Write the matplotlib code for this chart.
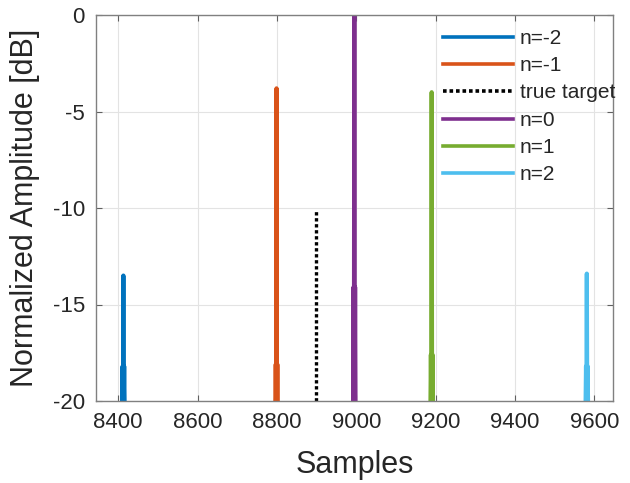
import matplotlib
matplotlib.use("Agg")
import matplotlib.pyplot as plt

plt.rcParams['font.family'] = ['Liberation Sans', 'DejaVu Sans']
plt.rcParams['axes.unicode_minus'] = False

# Compressed responses of each ambiguity order (samples vs normalized dB)
samples_m2 = [8410, 8411, 8412, 8413, 8414, 8415, 8416]
amp_m2 = [-20, -18.2, -20, -13.5, -20, -18.2, -20]

samples_m1 = [8796, 8797, 8798, 8799, 8800, 8801, 8802]
amp_m1 = [-20, -18.1, -20, -3.8, -20, -18.1, -20]

samples_true = [8898, 8898]
amp_true = [-20, -10.15]

samples_0 = [8992, 8993, 8994, 8995, 8996, 8997, 8998]
amp_0 = [-20, -14.1, -20, 0.0, -20, -14.1, -20]

samples_p1 = [9187, 9188, 9189, 9190, 9191, 9192, 9193]
amp_p1 = [-20, -17.6, -20, -4.0, -20, -17.6, -20]

samples_p2 = [9578, 9579, 9580, 9581, 9582, 9583, 9584]
amp_p2 = [-20, -18.2, -20, -13.4, -20, -18.2, -20]

labels = ['n=-2', 'n=-1', 'true target', 'n=0', 'n=1', 'n=2']
colors = ['#0072BD', '#D95319', '#000000', '#7E2F8E', '#77AC30', '#4DBEEE']
xticks = [8400, 8600, 8800, 9000, 9200, 9400, 9600]
yticks = [-20, -15, -10, -5, 0]

fig = plt.figure(figsize=(6.3, 4.83), dpi=100)
ax = fig.add_axes([96 / 630, 1 - 401 / 483, (613 - 96) / 630, (401 - 15) / 483])

series = [
    (samples_m2, amp_m2), (samples_m1, amp_m1), (samples_true, amp_true),
    (samples_0, amp_0), (samples_p1, amp_p1), (samples_p2, amp_p2),
]
for (xs, ys), lab, col in zip(series, labels, colors):
    if lab == 'true target':
        ax.plot(xs, ys, color=col, lw=2.4, ls=(0, (1, 0.8)), label=lab)
    else:
        ax.plot(xs, ys, color=col, lw=3.0, label=lab)

ax.set_xlim(8344, 9647)
ax.set_ylim(-20, 0)
ax.set_xticks(xticks)
ax.set_yticks(yticks)
ax.grid(True, color='#e3e3e3', lw=0.8)
ax.set_axisbelow(True)
for s in ax.spines.values():
    s.set_color('#808080')
    s.set_linewidth(1.0)
ax.tick_params(direction='in', length=4, width=0.8, color='#606060',
               top=True, right=True, labelsize=16, pad=8, labelcolor='#262626')

ax.set_xlabel('Samples', fontsize=22, color='#262626', labelpad=12)
ax.set_ylabel('Normalized Amplitude [dB]', fontsize=22, color='#262626', labelpad=9)

leg = ax.legend(loc='upper right', bbox_to_anchor=(1.012, 0.975), frameon=False,
                fontsize=15, handlelength=3.4, handletextpad=0.3,
                labelspacing=0.4, borderaxespad=0.0, borderpad=0.2)
for t in leg.get_texts():
    t.set_color('#262626')
for h in leg.get_lines():
    h.set_linewidth(2.6)

fig.savefig('out.png', dpi=100)
